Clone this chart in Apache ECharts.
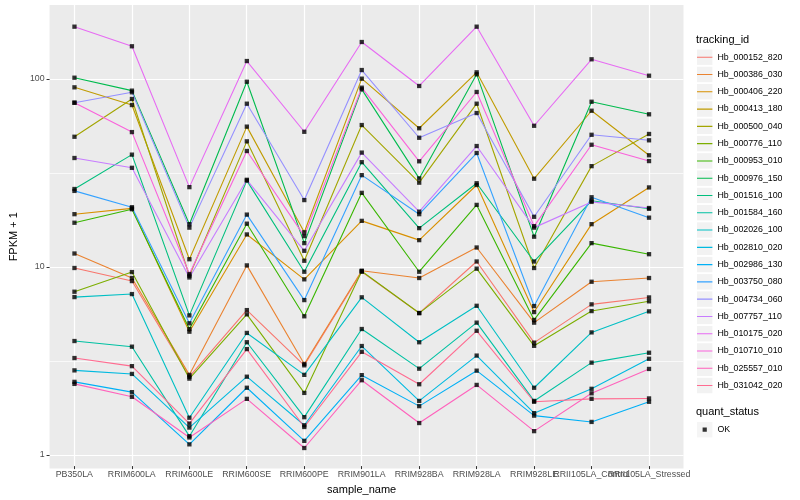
<!DOCTYPE html>
<html>
<head>
<meta charset="utf-8">
<script src="https://cdn.jsdelivr.net/npm/echarts@6/dist/echarts.min.js"></script>
<style>
  html, body { margin: 0; padding: 0; background: #fff; }
  #chart { width: 800px; height: 500px; }
</style>
</head>
<body>
<div id="chart"></div>
<script>
// ---- data ----
const categories = ['PB350LA','RRIM600LA','RRIM600LE','RRIM600SE','RRIM600PE','RRIM901LA','RRIM928BA','RRIM928LA','RRIM928LE','RRII105LA_Control','RRII105LA_Stressed'];

const hb_000152_820 = [9.88, 8.42, 2.61, 5.9, 3.0, 9.44, 5.69, 10.7, 3.96, 6.33, 6.89];
const hb_000386_030 = [11.8, 8.74, 2.67, 10.2, 3.05, 9.56, 8.74, 12.7, 5.06, 8.35, 8.74];
const hb_000406_220 = [19.1, 20.5, 4.53, 14.9, 8.6, 17.6, 13.9, 27.3, 5.76, 16.9, 26.5];
const hb_000413_180 = [90.3, 72.7, 11.0, 55.8, 15.3, 100.4, 54.7, 108.5, 29.5, 67.8, 39.3];
const hb_000500_040 = [49.3, 78.3, 8.99, 46.6, 10.8, 56.9, 28.1, 73.9, 9.88, 34.4, 51.0];
const hb_000776_110 = [7.39, 9.4, 2.55, 5.6, 2.14, 9.5, 5.69, 9.8, 3.81, 5.83, 6.57];
const hb_000953_010 = [17.2, 20.3, 4.68, 17.0, 5.47, 24.8, 9.44, 21.4, 5.23, 13.4, 11.7];
const hb_000976_150 = [101.6, 86.7, 16.9, 96.7, 13.4, 88.1, 29.6, 105.9, 14.5, 75.7, 64.9];
const hb_001516_100 = [26.0, 39.6, 5.53, 28.8, 9.44, 36.1, 16.1, 27.9, 10.7, 22.5, 20.4];
const hb_001584_160 = [4.04, 3.77, 1.26, 3.98, 1.59, 4.68, 2.88, 5.06, 1.94, 3.1, 3.5];
const hb_002026_100 = [6.92, 7.18, 1.58, 4.46, 2.67, 6.9, 3.98, 6.22, 2.28, 4.49, 5.81];
const hb_002810_020 = [2.82, 2.7, 1.40, 2.61, 1.44, 3.8, 1.94, 3.38, 1.67, 2.25, 3.25];
const hb_002986_130 = [2.45, 2.16, 1.14, 2.28, 1.19, 2.66, 1.82, 2.81, 1.62, 1.5, 1.92];
const hb_003750_080 = [25.4, 20.8, 5.02, 19.0, 6.67, 30.8, 19.1, 40.4, 6.2, 23.5, 18.3];
const hb_004734_060 = [74.8, 85.0, 16.2, 73.9, 22.7, 111.6, 48.7, 65.9, 18.5, 50.5, 47.2];
const hb_007757_110 = [38.0, 33.7, 8.8, 29.1, 12.2, 40.6, 19.7, 44.0, 16.2, 22.2, 20.6];
const hb_010175_020 = [189.8, 149.3, 26.6, 124.6, 52.4, 157.3, 91.8, 189.8, 56.4, 127.3, 104.1];
const hb_010710_010 = [74.8, 52.2, 9.18, 41.4, 14.6, 89.9, 36.5, 85.3, 16.5, 44.7, 36.6];
const hb_025557_010 = [2.39, 2.04, 1.24, 1.99, 1.09, 2.5, 1.48, 2.36, 1.34, 2.13, 2.87];
const hb_031042_020 = [3.28, 2.97, 1.47, 3.66, 1.41, 3.54, 2.38, 4.58, 1.92, 1.99, 2.0];

const trackingIds = ['Hb_000152_820','Hb_000386_030','Hb_000406_220','Hb_000413_180','Hb_000500_040','Hb_000776_110','Hb_000953_010','Hb_000976_150','Hb_001516_100','Hb_001584_160','Hb_002026_100','Hb_002810_020','Hb_002986_130','Hb_003750_080','Hb_004734_060','Hb_007757_110','Hb_010175_020','Hb_010710_010','Hb_025557_010','Hb_031042_020'];
const seriesValues = [hb_000152_820, hb_000386_030, hb_000406_220, hb_000413_180, hb_000500_040, hb_000776_110, hb_000953_010, hb_000976_150, hb_001516_100, hb_001584_160, hb_002026_100, hb_002810_020, hb_002986_130, hb_003750_080, hb_004734_060, hb_007757_110, hb_010175_020, hb_010710_010, hb_025557_010, hb_031042_020];
const yTickValues = [1, 10, 100];
const yMinorValues = [3.1623, 31.623];
const quantStatus = 'OK';

// ---- styles ----
const colors = ['#F8766D','#EA8331','#D89000','#C09B00','#A3A500','#7CAE00','#39B600','#00BB4E','#00BF7D','#00C1A3','#00BFC4','#00BAE0','#00B0F6','#35A2FF','#9590FF','#C77CFF','#E76BF3','#FA62DB','#FF62BC','#FF6C91'];
const FONT = 'Liberation Sans, Arial, Helvetica, sans-serif';
const Y_MIN = 0.848, Y_MAX = 247.5;
const KEY = 15.4, KEY_GAP = 1.88;
const lineIcon = 'path://M0,0h0.01v0.01h-0.01z M0,7.2h15.4v1.1h-15.4z M15.39,15.39h0.01v0.01h-0.01z';
const pointIcon = 'path://M0,0h0.01v0.01h-0.01z M5.6,5.6h4.2v4.2h-4.2z M15.39,15.39h0.01v0.01h-0.01z';

const chart = echarts.init(document.getElementById('chart'), null, { renderer: 'canvas' });

// series live on grid 1, whose value x axis spans the whole panel (-0.6 .. 10.6 category units);
// grid 2 only carries the visible category axis (labels, ticks, vertical grid lines)
const lineSeries = trackingIds.map((name, i) => ({
  type: 'line', name: name, xAxisIndex: 1, yAxisIndex: 1,
  data: seriesValues[i].map((v, j) => [j, v]), symbol: 'none', silent: true, z: 4,
  lineStyle: { width: 1.1, color: colors[i] }, itemStyle: { color: colors[i] }
}));

const pointData = [];
seriesValues.forEach(arr => arr.forEach((v, j) => pointData.push([j, v])));

const decadeLabel = v => {
  const l = Math.log10(v);
  return Math.abs(l - Math.round(l)) < 1e-6 ? String(Math.round(v)) : '';
};

const X_PAD = 0.6;

const option = {
  animation: false,
  textStyle: { fontFamily: FONT },
  title: [
    { text: 'tracking_id', left: 696, top: 34.5, padding: 0, textStyle: { fontSize: 11, fontWeight: 'normal', color: '#000', fontFamily: FONT } },
    { text: 'quant_status', left: 696, top: 406.5, padding: 0, textStyle: { fontSize: 11, fontWeight: 'normal', color: '#000', fontFamily: FONT } }
  ],
  grid: [
    { left: 40, right: 116.5, top: 5, bottom: 31.5, show: true, backgroundColor: '#EBEBEB', borderWidth: 0 },
    { left: 40, right: 116.5, top: 5, bottom: 31.5 },
    { left: 74.3, right: 151, top: 5, bottom: 31.5 }
  ],
  xAxis: [
    { gridIndex: 0, type: 'value', show: false, min: 0, max: 1 },
    { gridIndex: 1, type: 'value', show: false, min: -X_PAD, max: categories.length - 1 + X_PAD },
    { gridIndex: 2, type: 'category', data: categories, boundaryGap: false,
      axisLine: { show: false },
      axisTick: { show: true, length: 3, lineStyle: { color: '#333', width: 1 } },
      splitLine: { show: true, lineStyle: { color: '#FFFFFF', width: 1.2 } },
      axisLabel: { interval: 0, fontSize: 8.8, color: '#4D4D4D', margin: 4, fontFamily: FONT },
      name: 'sample_name', nameLocation: 'middle', nameGap: 13,
      nameTextStyle: { fontSize: 11, color: '#000', fontFamily: FONT } }
  ],
  yAxis: [
    { gridIndex: 0, type: 'log', logBase: 10, min: Y_MIN, max: Y_MAX,
      axisLine: { show: false },
      axisTick: { show: true, length: 3, lineStyle: { color: '#333', width: 1 } },
      axisLabel: { fontSize: 8.8, color: '#4D4D4D', margin: 5, fontFamily: FONT, formatter: decadeLabel, showMinLabel: false, showMaxLabel: false },
      splitLine: { show: true, showMinLine: false, showMaxLine: false, lineStyle: { color: '#FFFFFF', width: 1.2 } },
      name: 'FPKM + 1', nameLocation: 'middle', nameGap: 21, nameRotate: 90,
      nameTextStyle: { fontSize: 11, color: '#000', fontFamily: FONT } },
    { gridIndex: 1, type: 'log', logBase: 10, min: Y_MIN, max: Y_MAX, show: false },
    { gridIndex: 2, type: 'log', logBase: 10, min: Y_MIN, max: Y_MAX, show: false }
  ],
  legend: [
    { orient: 'vertical', left: 697, top: 49.5, padding: 0, itemWidth: KEY, itemHeight: KEY, itemGap: KEY_GAP,
      icon: 'rect', itemStyle: { color: '#F2F2F2', borderWidth: 0 }, data: trackingIds,
      formatter: () => '', selectedMode: false, z: 4, textStyle: { fontSize: 8.8 } },
    { orient: 'vertical', left: 697, top: 49.5, padding: 0, itemWidth: KEY, itemHeight: KEY, itemGap: KEY_GAP,
      icon: lineIcon, itemStyle: { borderWidth: 0 }, data: trackingIds, symbolKeepAspect: false,
      selectedMode: false, z: 5, textStyle: { fontSize: 8.8, color: '#000', fontFamily: FONT } },
    { orient: 'vertical', left: 697, top: 422, padding: 0, itemWidth: KEY, itemHeight: KEY,
      icon: 'rect', itemStyle: { color: '#F2F2F2', borderWidth: 0 }, data: [quantStatus],
      formatter: () => '', selectedMode: false, z: 4, textStyle: { fontSize: 8.8 } },
    { orient: 'vertical', left: 697, top: 422, padding: 0, itemWidth: KEY, itemHeight: KEY,
      icon: pointIcon, itemStyle: { borderWidth: 0 }, data: [quantStatus], symbolKeepAspect: false,
      selectedMode: false, z: 5, textStyle: { fontSize: 8.8, color: '#000', fontFamily: FONT } }
  ],
  series: lineSeries.concat([
    { type: 'scatter', name: quantStatus, xAxisIndex: 1, yAxisIndex: 1, data: pointData,
      symbol: 'rect', symbolSize: 4.3, itemStyle: { color: '#000' }, silent: true, z: 5,
      markLine: { silent: true, symbol: 'none', label: { show: false }, animation: false, z: 1,
        lineStyle: { color: '#FFFFFF', width: 0.7, type: 'solid' },
        data: yMinorValues.map(v => ({ yAxis: v })) } }
  ])
};

chart.setOption(option);
</script>
</body>
</html>
